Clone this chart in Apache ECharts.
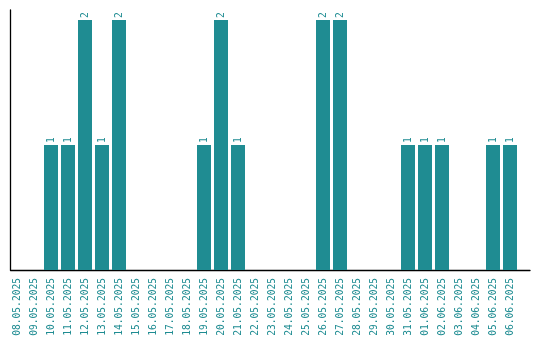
<!DOCTYPE html>
<html><head><meta charset="utf-8">
<script src="https://cdn.jsdelivr.net/npm/echarts@6/dist/echarts.min.js"></script>
<style>html,body{margin:0;padding:0;background:#fff}#c{width:540px;height:340px}</style>
</head><body><div id="c"></div>
<script>
const categories = ["08.05.2025","09.05.2025","10.05.2025","11.05.2025","12.05.2025","13.05.2025","14.05.2025","15.05.2025","16.05.2025","17.05.2025","18.05.2025","19.05.2025","20.05.2025","21.05.2025","22.05.2025","23.05.2025","24.05.2025","25.05.2025","26.05.2025","27.05.2025","28.05.2025","29.05.2025","30.05.2025","31.05.2025","01.06.2025","02.06.2025","03.06.2025","04.06.2025","05.06.2025","06.06.2025"];
const values = [0,0,1,1,2,1,2,0,0,0,0,1,2,1,0,0,0,0,2,2,0,0,0,1,1,1,0,0,1,1];
const teal = '#1f8c92';
const font = 'DejaVu Sans Mono';
const chart = echarts.init(document.getElementById('c'), null, {renderer:'canvas'});
chart.setOption({
  animation:false,
  grid:[
    {left:8.5, right:21.5, top:20, bottom:70},
    {left:10.5, right:10, top:10, bottom:70}
  ],
  xAxis:[
    {type:'category', gridIndex:0, data:categories,
     axisLine:{show:false}, axisTick:{show:false},
     axisLabel:{rotate:90, interval:0, color:teal, fontFamily:font, fontSize:9.6, margin:8}},
    {type:'value', gridIndex:1, min:0, max:1,
     axisLine:{show:true, lineStyle:{color:'#000', width:1.3}}, axisTick:{show:false},
     axisLabel:{show:false}, splitLine:{show:false}}
  ],
  yAxis:[
    {type:'value', gridIndex:0, min:0, max:2,
     axisLine:{show:false}, axisTick:{show:false}, axisLabel:{show:false}, splitLine:{show:false}},
    {type:'value', gridIndex:1, min:0, max:1,
     axisLine:{show:true, lineStyle:{color:'#000', width:1.3}}, axisTick:{show:false},
     axisLabel:{show:false}, splitLine:{show:false}}
  ],
  series:[{
    type:'bar', xAxisIndex:0, yAxisIndex:0,
    data:values.map(v => v === 0 ? null : v),
    barWidth:14,
    itemStyle:{color:teal},
    label:{show:true, position:'top', rotate:90, align:'left', verticalAlign:'middle',
      distance:2, color:teal, fontFamily:font, fontSize:9.6}
  }]
});
</script></body></html>
